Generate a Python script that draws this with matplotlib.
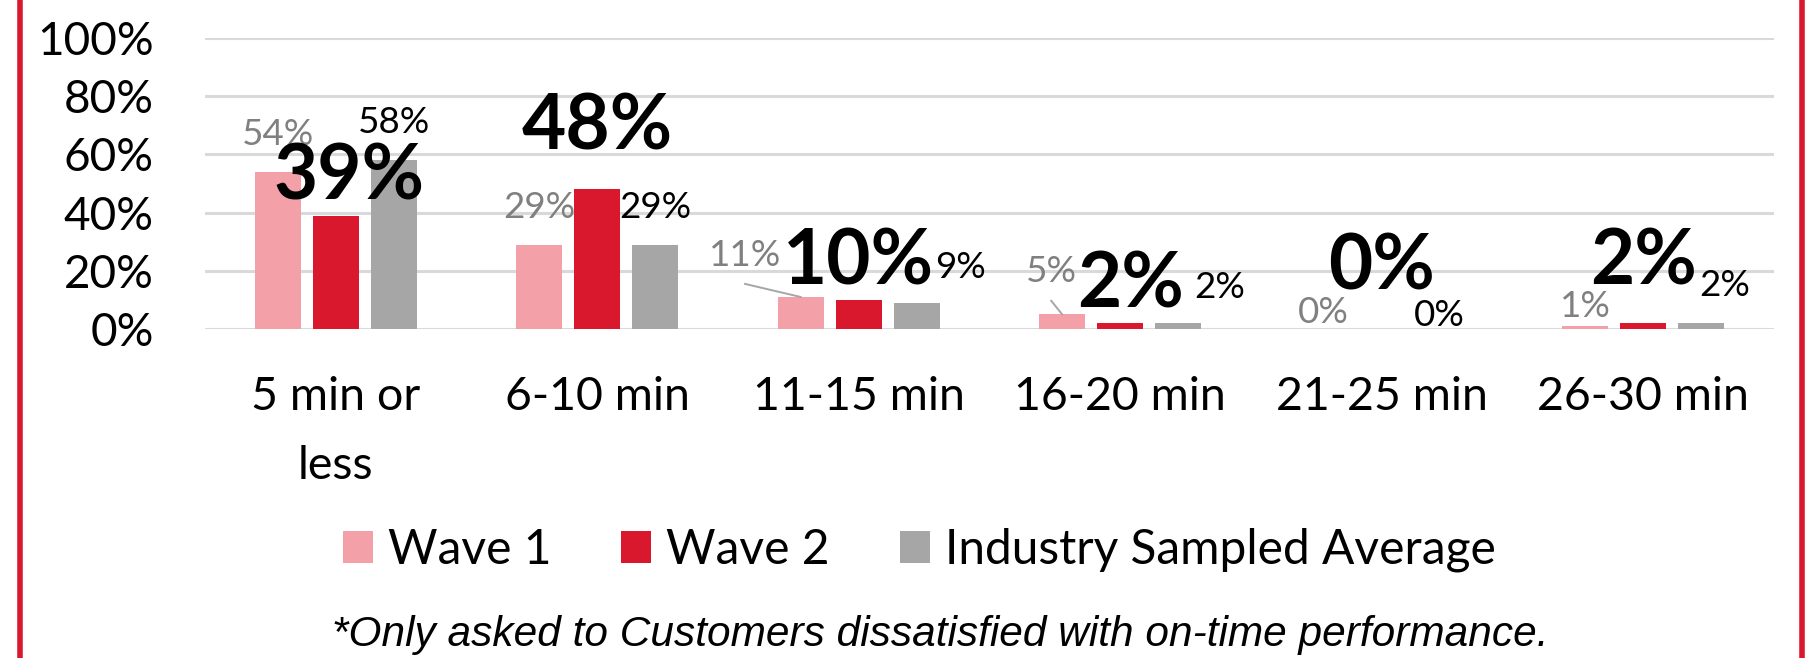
import numpy as np
import matplotlib
matplotlib.use("Agg")
import matplotlib.pyplot as plt
from matplotlib.patches import Patch
from matplotlib.lines import Line2D

# data
categories = ["5 min or\nless", "6-10 min", "11-15 min", "16-20 min", "21-25 min", "26-30 min"]
series_names = ["Wave 1", "Wave 2", "Industry Sampled Average"]
wave1 = [54, 29, 11, 5, 0, 1]
wave2 = [39, 48, 10, 2, 0, 2]
industry = [58, 29, 9, 2, 0, 2]
yticks = [0, 20, 40, 60, 80, 100]
footnote = "*Only asked to Customers dissatisfied with on-time performance."

# label placement: offset of label centre from bar centre (x, in categories) and bar top (y, in %)
w1_dx = [0, 0, -0.213, -0.042, 0, 0]
w1_dy = [12.7, 12.6, 14.4, 14.6, 5.8, 6.6]
w2_dx = [0.05, 0, 0, 0.04, 0, 0]
w2_dy = [12.9, 21.1, 12.7, 13.1, 21.3, 21.0]
ind_dx = [0, 0, 0.168, 0.158, 0, 0.088]
ind_dy = [12.8, 12.6, 12.3, 12.4, 4.8, 13.1]
w1_leader = [False, False, True, True, False, False]

# colours
c_w1 = "#F4A0A8"
c_w2 = "#D9182D"
c_ind = "#A6A6A6"
c_grid = "#D9D9D9"
c_lbl = "#808080"

plt.rcParams['font.family'] = ['Lato', 'DejaVu Sans']

fig = plt.figure(figsize=(18.06, 6.58), dpi=100)
ax = fig.add_axes([205/1806, 0.5, (1774-205)/1806, (329-38)/658])

x = np.arange(len(categories))
width = 0.176
step = 0.222
cols = [c_w1, c_w2, c_ind]
series = [wave1, wave2, industry]
for k, (vals, col) in enumerate(zip(series, cols)):
    ax.bar(x + (k - 1) * step, vals, width=width, color=col, zorder=2)

ax.set_xlim(-0.5, len(categories) - 0.5)
ax.set_ylim(0, 100)
ax.set_yticks(yticks)
ax.set_yticklabels([f"{v}%" for v in yticks], fontsize=33)
ax.set_xticks(x)
ax.set_xticklabels(categories, fontsize=33.5, linespacing=1.8)
ax.tick_params(axis='y', length=0, pad=37)
ax.tick_params(axis='x', length=0, pad=33.5)
ax.grid(axis='y', color=c_grid, linewidth=2.2, zorder=0)
ax.set_axisbelow(True)
for s in ax.spines.values():
    s.set_visible(False)

# data labels
for i in range(len(categories)):
    bx = x[i] - step
    ax.text(bx + w1_dx[i], wave1[i] + w1_dy[i], f"{wave1[i]}%", color=c_lbl,
            fontsize=26.5, ha='center', va='center', zorder=4)
    if w1_leader[i]:
        ax.plot([bx + w1_dx[i] - 0.0, bx], [wave1[i] + w1_dy[i] - 9.9, wave1[i]],
                color=c_ind, linewidth=1.4, zorder=3)
    ax.text(x[i] + w2_dx[i], wave2[i] + w2_dy[i], f"{wave2[i]}%", color="black",
            fontsize=55, fontweight='bold', ha='center', va='center', zorder=5)
    ax.text(x[i] + step + ind_dx[i], industry[i] + ind_dy[i], f"{industry[i]}%", color="black",
            fontsize=26.5, ha='center', va='center', zorder=4)

# legend
handles = [Patch(facecolor=c, edgecolor='none') for c in cols]
fig.legend(handles, series_names, loc='center', bbox_to_anchor=(919/1806, 108/658),
           ncol=3, frameon=False, fontsize=34.5, handlelength=0.63, handleheight=0.63,
           handletextpad=0.31, columnspacing=1.46)

# footnote
fig.text(940/1806, 23/658, footnote, ha='center', va='center', fontsize=30.5,
         style='italic', family=['Liberation Sans', 'DejaVu Sans'])

# red frame
for fx in (20/1806, 1802/1806):
    fig.add_artist(Line2D([fx, fx], [0, 1], color=c_w2, linewidth=4, transform=fig.transFigure))

fig.savefig("out.png", dpi=100)
